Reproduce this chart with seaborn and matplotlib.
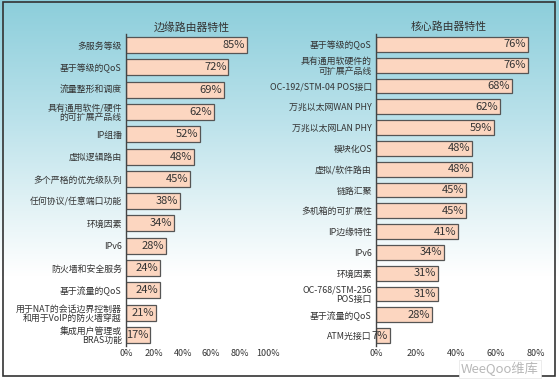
import numpy as np
import pandas as pd
import matplotlib
matplotlib.use("Agg")
import matplotlib.pyplot as plt
from matplotlib.colors import LinearSegmentedColormap
from matplotlib.patches import Rectangle
import seaborn as sns

# ── Data ────────────────────────────────────────────────────────────────────
EDGE_TITLE = "边缘路由器特性"
EDGE_LABELS = [
    "多服务等级", "基于等级的QoS", "流量整形和调度",
    "具有通用软件/硬件\n的可扩展产品线", "IP组播", "虚拟逻辑路由",
    "多个严格的优先级队列", "任何协议/任意端口功能", "环境因素", "IPv6",
    "防火墙和安全服务", "基于流量的QoS",
    "用于NAT的会话边界控制器\n和用于VoIP的防火墙穿越", "集成用户管理或\nBRAS功能",
]
EDGE_VALUES = [85, 72, 69, 62, 52, 48, 45, 38, 34, 28, 24, 24, 21, 17]

CORE_TITLE = "核心路由器特性"
CORE_LABELS = [
    "基于等级的QoS", "具有通用软硬件的\n可扩展产品线", "OC-192/STM-04 POS接口",
    "万兆以太网WAN PHY", "万兆以太网LAN PHY", "模块化OS", "虚拟/软件路由",
    "链路汇聚", "多机箱的可扩展性", "IP边缘特性", "IPv6", "环境因素",
    "OC-768/STM-256\nPOS接口", "基于流量的QoS", "ATM光接口",
]
CORE_VALUES = [76, 76, 68, 62, 59, 48, 48, 45, 45, 41, 34, 31, 31, 28, 7]

EDGE_TICKS = [0, 20, 40, 60, 80, 100]
CORE_TICKS = [0, 20, 40, 60, 80]

BAR_COLOR = "#fcd6c0"
EDGE_COLOR = "#555555"
TEXT_COLOR = "#333333"

sns.set_style("white")
plt.rcParams["font.family"] = ["Noto Sans CJK SC", "DejaVu Sans"]

W, H = 559, 383
fig = plt.figure(figsize=(W / 100, H / 100), dpi=100)


def px(x0, y0, x1, y1):
    """pixel box (top-left origin) -> figure fraction rect"""
    return [x0 / W, 1 - y1 / H, (x1 - x0) / W, (y1 - y0) / H]


# background gradient + frame
bg = fig.add_axes([0, 0, 1, 1], zorder=-10)
grad = np.linspace(0, 1, 256).reshape(-1, 1)
cmap = LinearSegmentedColormap.from_list(
    "bg", [(0, "#8ccedb"), (0.3, "#b9e1ea"), (0.55, "#e4f3f6"),
           (0.72, "#ffffff"), (1, "#ffffff")])
bg.imshow(grad, aspect="auto", cmap=cmap, extent=[0, 1, 0, 1],
          origin="upper", vmin=0, vmax=1)
bg.axis("off")
bg.add_patch(Rectangle((3 / W, 1 - 376 / H), 552 / W, 374 / H,
                       transform=bg.transAxes, fill=False,
                       edgecolor="#333333", lw=1.2))
bg.set_xlim(0, 1)
bg.set_ylim(0, 1)


def draw_panel(rect, title, title_x, labels, values, ticks, xmax):
    ax = fig.add_axes(rect)
    ax.set_facecolor("none")
    df = pd.DataFrame({"feature": labels, "pct": values})
    sns.barplot(data=df, x="pct", y="feature", orient="h", color=BAR_COLOR,
                saturation=1, edgecolor=EDGE_COLOR, linewidth=0.9,
                width=0.72, ax=ax)
    for i, v in enumerate(values):
        ax.text(v - 0.012 * xmax, i, f"{v}%", ha="right", va="center",
                fontsize=8, color=TEXT_COLOR)
    ax.set_xlim(0, xmax)
    ax.set_xticks(ticks)
    ax.set_xticklabels([f"{t}%" for t in ticks])
    ax.set_xlabel("")
    ax.set_ylabel("")
    for s in ("top", "right", "bottom"):
        ax.spines[s].set_visible(False)
    ax.spines["left"].set_color("#444444")
    ax.spines["left"].set_linewidth(1.0)
    ax.tick_params(axis="x", direction="in", length=6, width=0.9,
                   color="#444444", labelsize=6.5, labelcolor=TEXT_COLOR,
                   pad=2)
    ax.tick_params(axis="y", length=0, labelsize=6.4, labelcolor=TEXT_COLOR,
                   pad=3)
    for lab in ax.get_yticklabels():
        lab.set_linespacing(1.05)
    fig.text(title_x / W, 1 - 27 / H, title, ha="center", va="center",
             fontsize=7.8, color=TEXT_COLOR)
    return ax


draw_panel(px(126, 34, 268, 346), EDGE_TITLE, 192,
           EDGE_LABELS, EDGE_VALUES, EDGE_TICKS, 100)
draw_panel(px(376, 34, 536, 346), CORE_TITLE, 449,
           CORE_LABELS, CORE_VALUES, CORE_TICKS, 80)

fig.text(500 / W, 1 - 369 / H, "WeeQoo维库", ha="center", va="center",
         fontsize=9.5, color="#b8b8b8", style="italic",
         bbox=dict(facecolor="white", edgecolor="#e4e4e4", lw=0.5, pad=1.2))

fig.savefig("out.png", dpi=100)
